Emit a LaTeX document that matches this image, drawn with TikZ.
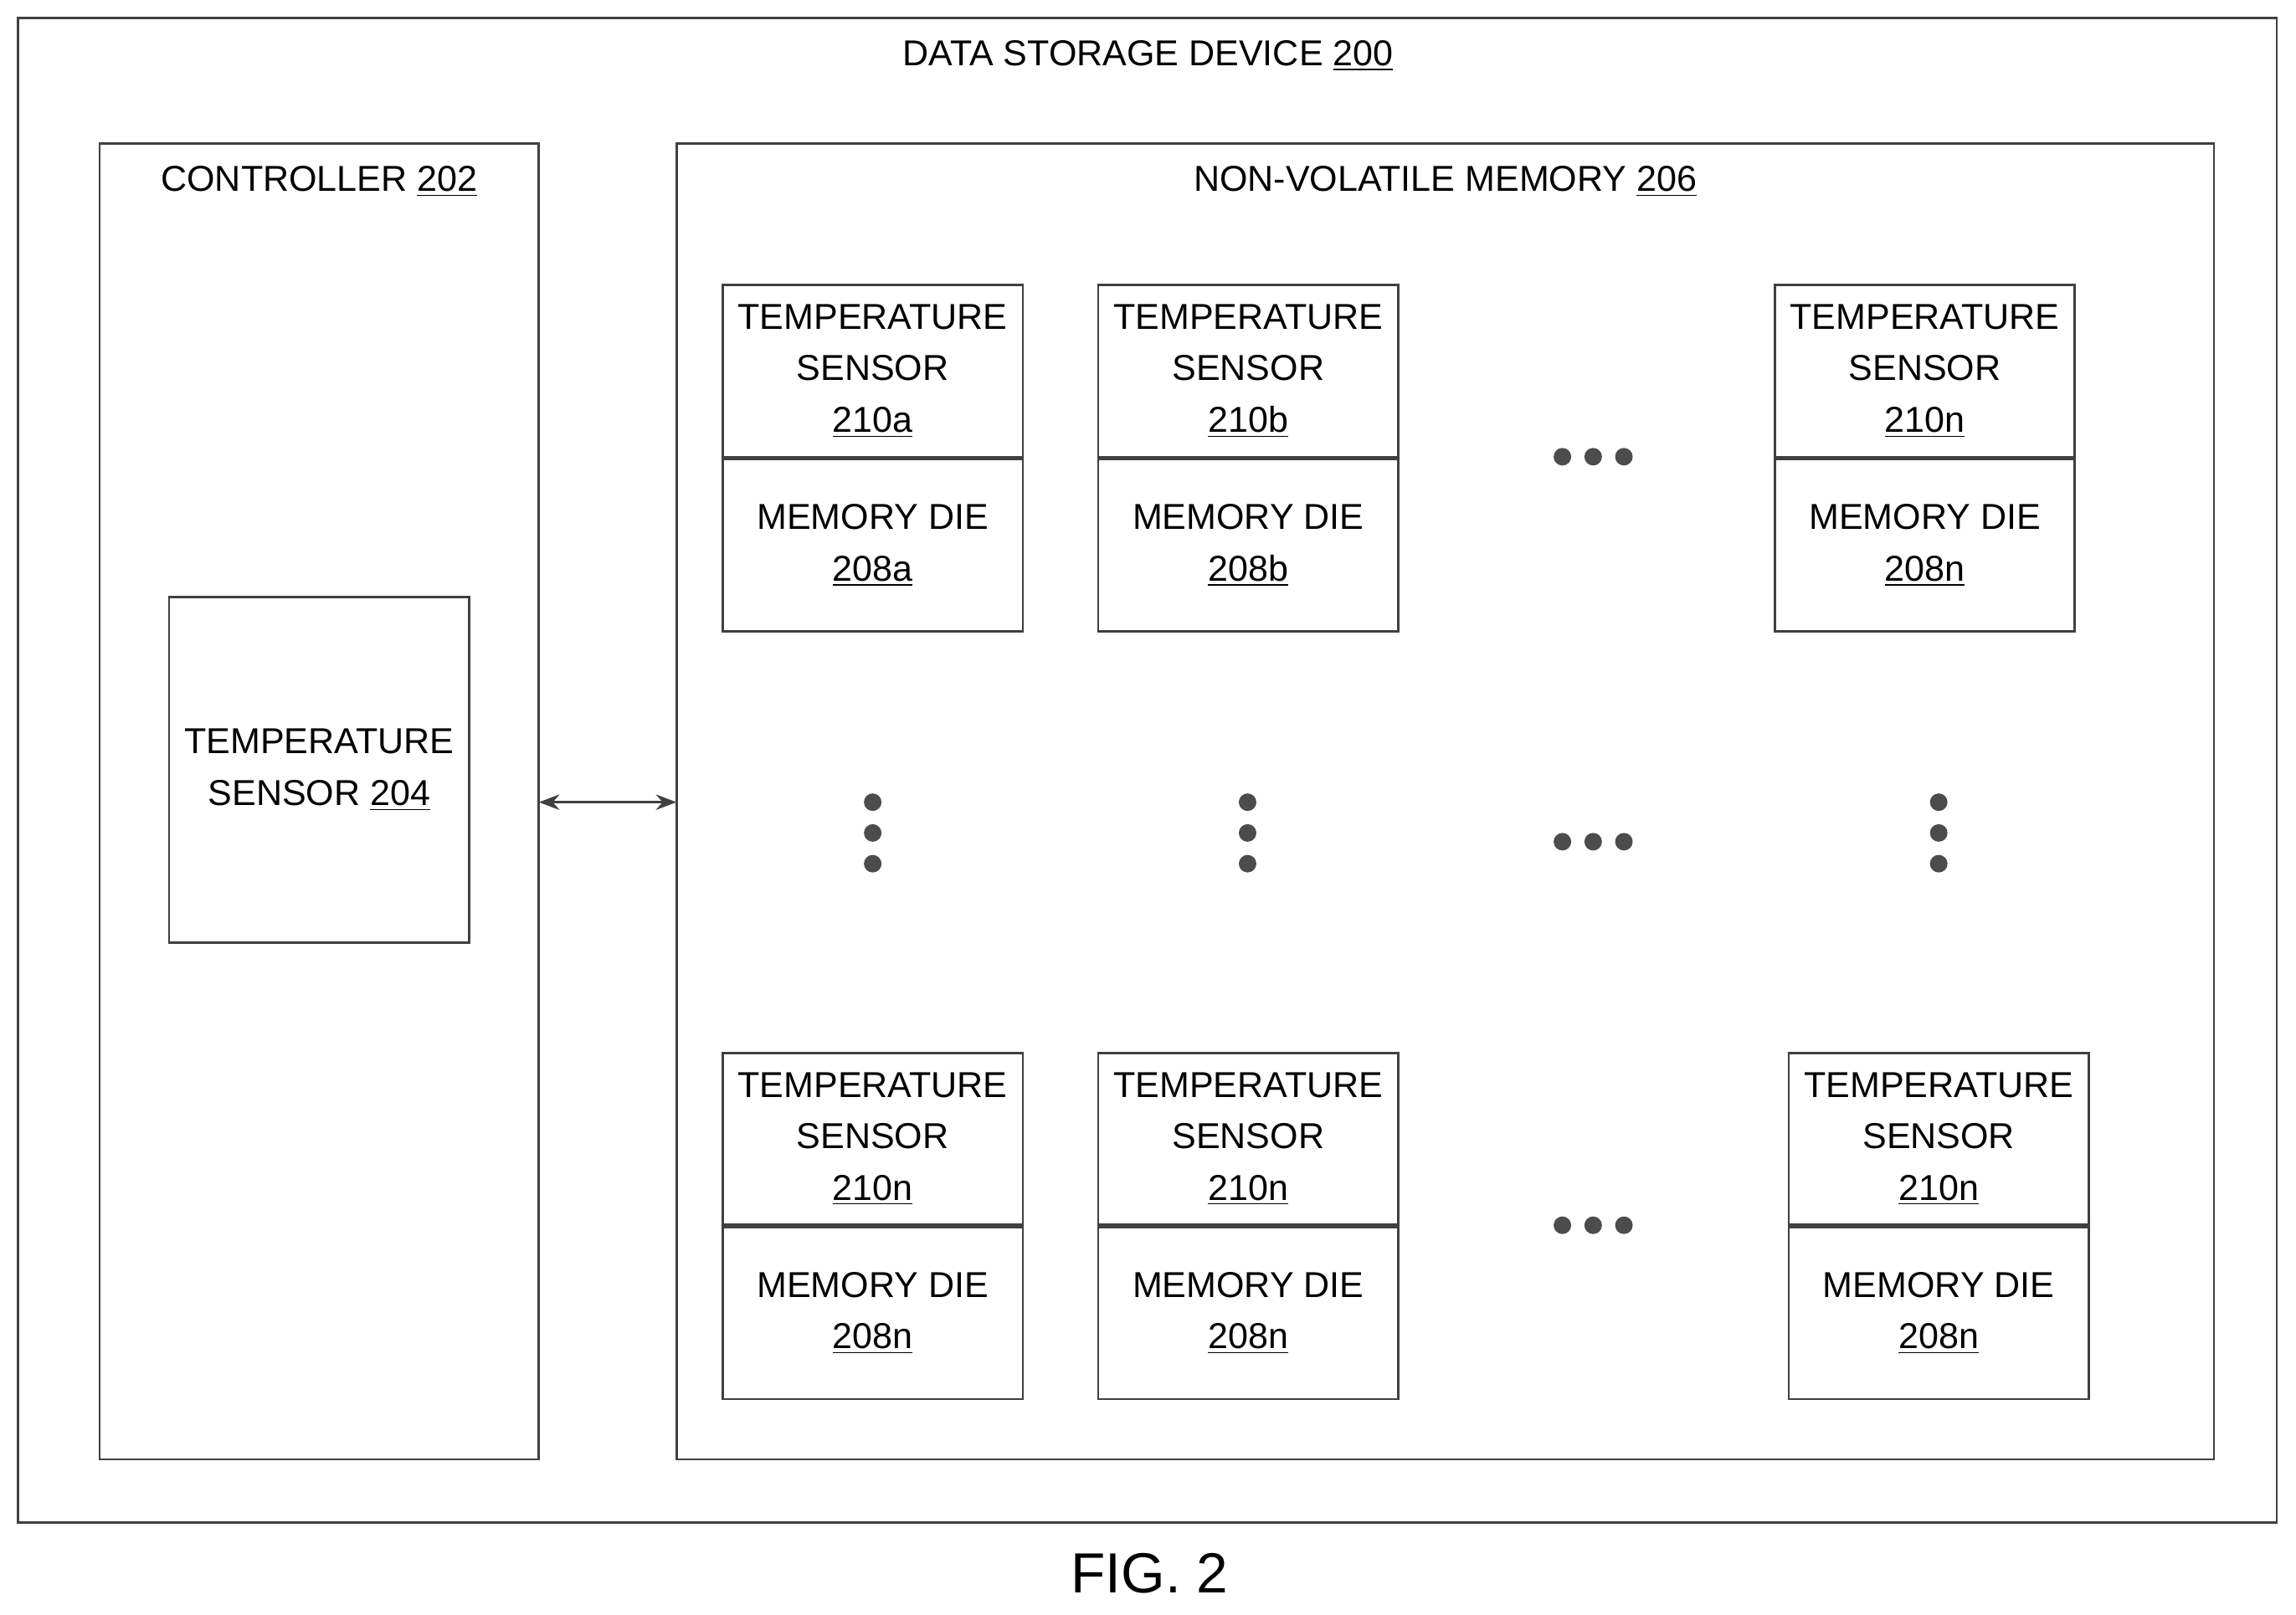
\documentclass[tikz,border=0pt]{standalone}
\usepackage{fontspec}
\setmainfont{Liberation Sans}
\usetikzlibrary{positioning, arrows.meta}
\tikzset{
    box/.style={draw=black!75, line width=0.9pt, rectangle},
    part/.style={box, align=center, minimum width=4.1cm, minimum height=2.35cm, inner sep=0pt, font=\fontsize{14}{20}\selectfont},
    lbl/.style={font=\fontsize{14}{20}\selectfont},
    dot/.style={circle, fill=black!70, inner sep=0pt, minimum size=0.24cm}
}
\begin{document}
\begin{tikzpicture}[x=0.02cm, y=-0.02cm]
    \useasboundingbox (0, 0) rectangle (1568, 1103);
    \node (device) [box, minimum width=30.86cm, minimum height=20.56cm] at (783.5, 526) {};
    \node (devlabel) at (784, 38) [lbl] {DATA STORAGE DEVICE \underline{200}};
    \node (controller) [box, minimum width=6cm, minimum height=17.98cm] at (218, 547.5) {};
    \node (ctrllabel) at (218, 124) [lbl] {CONTROLLER \underline{202}};
    \node (ctrlsensor) [part, minimum height=4.72cm] at (218, 526) {TEMPERATURE\\SENSOR \underline{204}};
    \node (nvm) [box, minimum width=21cm, minimum height=17.98cm] at (987, 547.5) {};
    \node (nvmlabel) at (987, 124) [lbl] {NON-VOLATILE MEMORY \underline{206}};

    % top row
    \node (sensora) [part] at (596, 253.5) {TEMPERATURE\\SENSOR\\\underline{210a}};
    \node (diea) [part, below=0pt of sensora] {MEMORY DIE\\\underline{208a}};
    \node (sensorb) [part] at (852.5, 253.5) {TEMPERATURE\\SENSOR\\\underline{210b}};
    \node (dieb) [part, below=0pt of sensorb] {MEMORY DIE\\\underline{208b}};
    \node (sensorn) [part] at (1314.5, 253.5) {TEMPERATURE\\SENSOR\\\underline{210n}};
    \node (dien) [part, below=0pt of sensorn] {MEMORY DIE\\\underline{208n}};

    % bottom row
    \node (sensorc) [part] at (596, 778) {TEMPERATURE\\SENSOR\\\underline{210n}};
    \node (diec) [part, below=0pt of sensorc] {MEMORY DIE\\\underline{208n}};
    \node (sensord) [part] at (852.5, 778) {TEMPERATURE\\SENSOR\\\underline{210n}};
    \node (died) [part, below=0pt of sensord] {MEMORY DIE\\\underline{208n}};
    \node (sensorm) [part] at (1324, 778) {TEMPERATURE\\SENSOR\\\underline{210n}};
    \node (diem) [part, below=0pt of sensorm] {MEMORY DIE\\\underline{208n}};

    % ellipses
    \foreach \y in {312, 575, 837} {
        \foreach \x in {1067, 1088, 1109} \node [dot] at (\x, \y) {};
    }
    \foreach \x in {596, 852, 1324} {
        \foreach \y in {548, 569, 590} \node [dot] at (\x, \y) {};
    }

    \coordinate (left) at (368, 548);
    \coordinate (right) at (462, 548);
    \draw [{Stealth[length=8pt]}-{Stealth[length=8pt]}, black!75, line width=0.9pt] (left) -- (right);

    \node (fig) at (785, 1075) [font=\fontsize{22}{26}\selectfont] {FIG. 2};
\end{tikzpicture}
\end{document}
